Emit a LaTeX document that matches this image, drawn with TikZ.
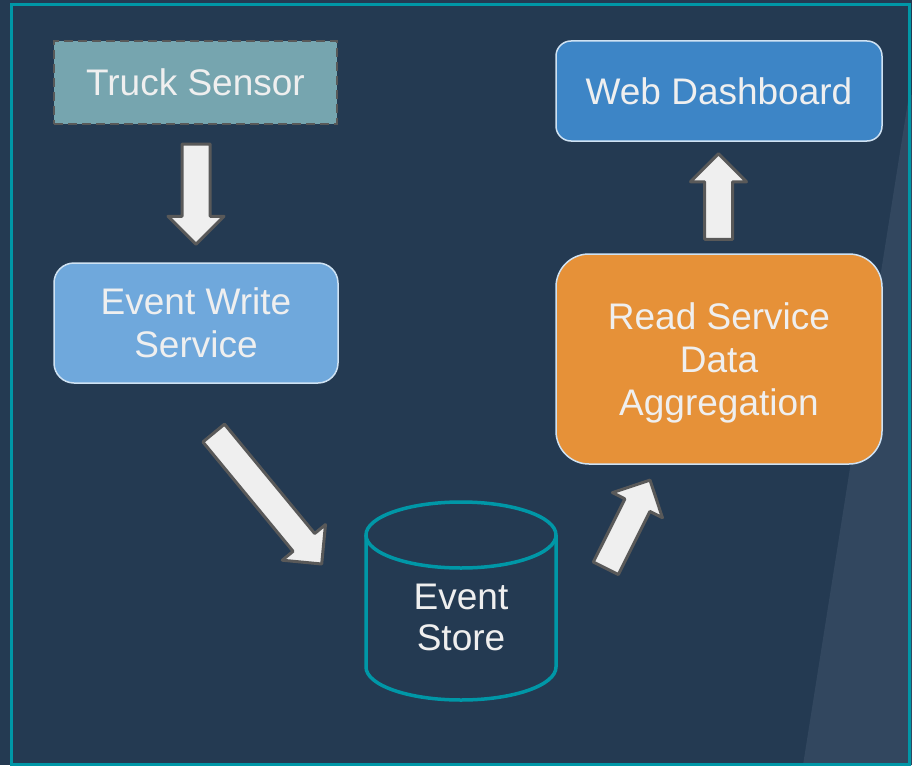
\documentclass[tikz,border=0pt]{standalone}
\usepackage{fontspec}
\setmainfont{Liberation Sans}
\usetikzlibrary{calc}

\definecolor{bgdark}{HTML}{243A52}
\definecolor{bglight}{HTML}{32475F}
\definecolor{frameteal}{HTML}{0097A7}
\definecolor{sensorfill}{HTML}{76A5AF}
\definecolor{webfill}{HTML}{3D85C6}
\definecolor{writefill}{HTML}{6FA8DC}
\definecolor{readfill}{HTML}{E69138}
\definecolor{boxedge}{HTML}{CFE2F3}
\definecolor{labeltext}{HTML}{EFEFEF}
\definecolor{arrowfill}{HTML}{EFEFEF}
\definecolor{arrowedge}{HTML}{595959}

% Block arrow from the first named point to the second one
\newcommand\blockarrow[2]{%
  \path let \p1=($(#2)-(#1)$) in
    \pgfextra{\pgfmathsetmacro\balen{veclen(\x1,\y1)}%
      \pgfmathsetmacro\baang{atan2(\y1,\x1)}%
      \global\let\balen\balen\global\let\baang\baang};
  \draw[blockarrow, shift={(#1)}, rotate=\baang]
    (0pt,-14pt) -- ({\balen pt-28pt},-14pt) -- ({\balen pt-28pt},-28pt)
    -- (\balen pt,0pt) -- ({\balen pt-28pt},28pt) -- ({\balen pt-28pt},14pt)
    -- (0pt,14pt) -- cycle;
}

\tikzset{
  box/.style={draw=boxedge, line width=1.5pt, text=labeltext, align=center,
    font=\fontsize{37}{43}\selectfont, inner sep=0pt},
  blockarrow/.style={draw=arrowedge, fill=arrowfill, line width=3pt, line join=round},
  storeline/.style={draw=frameteal, line width=3.5pt},
}

\begin{document}
\begin{tikzpicture}[x=1pt, y=1pt]
  % page and background
  \fill[bgdark] (0,0) rectangle (912,-765);
  \useasboundingbox (0,0) rectangle (912,-765);
  \fill[bglight] (909,-95) -- (803,-765) -- (912,-765) -- (912,-95) -- cycle;
  \draw[frameteal, line width=3pt] (11.5,-4.5) rectangle (909.5,-764);

  % boxes
  \node[box, draw=arrowedge, dashed, dash pattern=on 9pt off 5pt, line width=2pt,
        fill=sensorfill, minimum width=283, minimum height=83]
    (sensor) at (195.5,-82.5) {Truck Sensor};
  \node[box, fill=writefill, rounded corners=20pt, minimum width=284, minimum height=120]
    (write) at (196,-323) {Event Write\\Service};
  \node[box, fill=webfill, rounded corners=15pt, minimum width=326, minimum height=100]
    (web) at (719,-91) {Web Dashboard};
  \node[box, fill=readfill, rounded corners=33pt, minimum width=326, minimum height=210,
        text depth=0pt]
    (read) at (719,-359) {Read Service\\Data\\Aggregation};

  % event store cylinder
  \coordinate (storetop) at (461,-502);
  \draw[storeline] (366,-535) -- (366,-667)
    arc[start angle=180, end angle=360, x radius=95, y radius=33] -- (556,-535);
  \draw[storeline] (461,-535) ellipse[x radius=95, y radius=33];
  \node[text=labeltext, align=center, font=\fontsize{37}{41}\selectfont, inner sep=0pt]
    (store) at (461,-617) {Event\\Store};

  % arrow end points
  \coordinate (a1tail) at ($(sensor.south)+(0.5,-19)$);
  \coordinate (a1tip)  at ($(write.north)+(0,18)$);
  \coordinate (a2tail) at ($(write.south)+(17.7,-49.3)$);
  \coordinate (a2tip)  at ($(storetop)+(-139.3,-62)$);
  \coordinate (a3tail) at ($(storetop)+(144.8,-66.3)$);
  \coordinate (a3tip)  at ($(read.south)+(-69,-15.3)$);
  \coordinate (a4tail) at ($(read.north)+(-0.5,14)$);
  \coordinate (a4tip)  at ($(web.south)+(-0.5,-12)$);

  \blockarrow{a1tail}{a1tip}
  \blockarrow{a2tail}{a2tip}
  \blockarrow{a3tail}{a3tip}
  \blockarrow{a4tail}{a4tip}
\end{tikzpicture}
\end{document}
